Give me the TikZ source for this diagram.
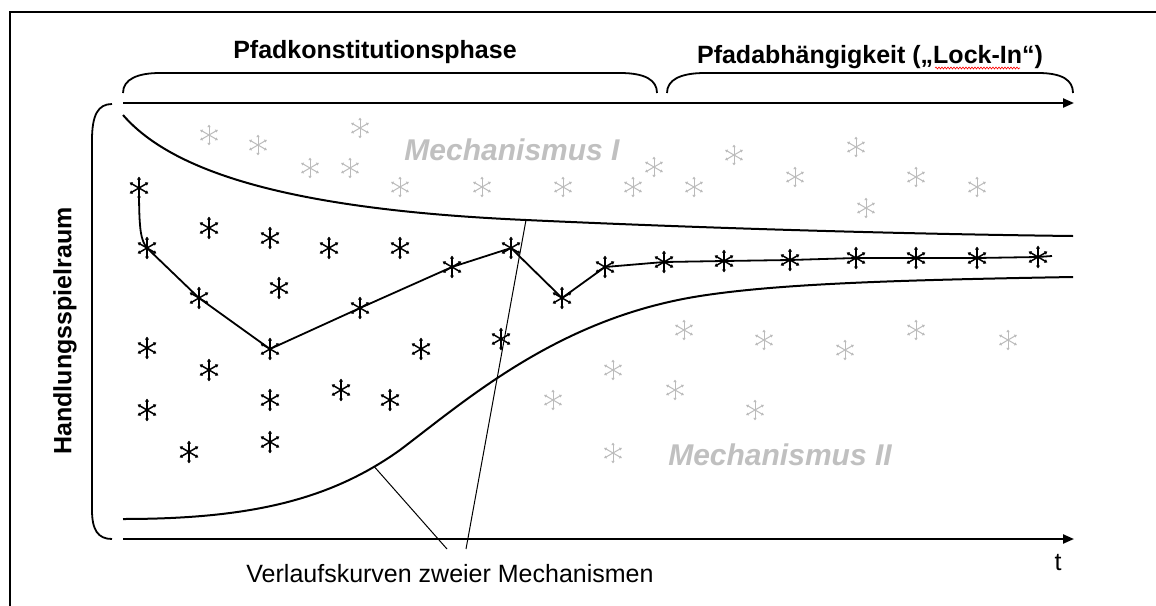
\documentclass[tikz,border=0pt]{standalone}
\usepackage{fontspec}
\setmainfont{Liberation Sans}
\usetikzlibrary{arrows.meta,decorations.pathmorphing}
\definecolor{astgray}{HTML}{BBBBBB}
\definecolor{mechgray}{HTML}{C0C0C0}
\tikzset{
  astk/.style={line width=1.5pt, {Latex[length=3pt,width=4.4pt]}-{Latex[length=3pt,width=4.4pt]}},
  astg/.style={line width=1pt, draw=astgray, {Latex[length=2.6pt,width=3.6pt]}-{Latex[length=2.6pt,width=3.6pt]}},
  kast/.pic={\draw[astk] (0,-11.5)--(0,11.5); \draw[astk] (-9.5,-5.5)--(9.5,5.5); \draw[astk] (-9.5,5.5)--(9.5,-5.5);},
  gast/.pic={\draw[astg] (0,-10.5)--(0,10.5); \draw[astg] (-9,-5.2)--(9,5.2); \draw[astg] (-9,5.2)--(9,-5.2);},
  axisline/.style={line width=2.2pt, -{Triangle[length=11pt,width=9pt]}},
  bracel/.style={line width=1.8pt},
  curveline/.style={line width=2pt},
  pathline/.style={line width=1.8pt, line join=round},
  pointer/.style={line width=1pt},
  titletext/.style={font=\fontsize{25}{30}\selectfont\bfseries, inner sep=0pt},
  captext/.style={font=\fontsize{25}{30}\selectfont, inner sep=0pt},
  mechtext/.style={font=\fontsize{30}{36}\selectfont\bfseries\itshape, text=mechgray, inner sep=0pt},
}
\begin{document}
\begin{tikzpicture}[x=1pt,y=-1pt]
\useasboundingbox (0,0) rectangle (1156,605);
% frame
\draw[line width=2pt] (10,610) -- (10,12) -- (1160,12);
% titles
\node[titletext] (t1) at (375,52) {Pfadkonstitutionsphase};
\node[titletext] (t2) at (870,57) {Pfadabhängigkeit („Lock-In“)};
\draw[red, line width=0.6pt, decorate, decoration={snake, amplitude=1pt, segment length=3pt}] (935,68) -- (1020,68);
\node[titletext, rotate=90] (hl) at (65,331) {Handlungsspielraum};
% braces
\draw[bracel] (123,93) .. controls (123,79) and (138,73) .. (160,73) -- (620,73) .. controls (645,73) and (657,80) .. (657,93);
\draw[bracel] (667,93) .. controls (667,80) and (680,73) .. (705,73) -- (1038,73) .. controls (1062,73) and (1073,80) .. (1073,93);
\draw[bracel] (112,104) .. controls (98,104) and (92,115) .. (92,140) -- (92,510) .. controls (92,530) and (98,539) .. (112,539);
% axes
\coordinate (ta0) at (123,103); \coordinate (ta1) at (1074,103);
\coordinate (ba0) at (123,539); \coordinate (ba1) at (1074,539);
\draw[axisline] (ta0) -- (ta1);
\draw[axisline] (ba0) -- (ba1);
% mechanism curves
\draw[curveline] (123,115) .. controls (175,175) and (300,210) .. (526,220) coordinate (pb)
  .. controls (700,228) and (900,234) .. (1073,236);
\draw[curveline] (123,519) .. controls (250,519) and (330,500) .. coordinate[pos=0.88] (pa) (400,450)
  .. controls (470,397) and (560,318) .. (700,296)
  .. controls (780,283.5) and (900,280) .. (1073,277);
% labels
\node[mechtext] (m1) at (512,150) {Mechanismus I};
\node[mechtext] (m2) at (780,455) {Mechanismus II};
\node[captext] (cap) at (450,574) {Verlaufskurven zweier Mechanismen};
\node[captext] (tl) at (1058,563) {t};
% pointers
\coordinate (ca) at (447,549); \coordinate (cb) at (466,549);
\draw[pointer] (pa) -- (ca);
\draw[pointer] (pb) -- (cb);
% gray asterisks
\foreach \x/\y in {209/135,258/145,360/128,310/168,350/168,400/187,482/187,563/187,633/187,654/167,694/187,734/155,795/177,856/147,866/208,916/177,977/187,684/330,764/340,845/350,916/330,1008/340,613/370,675/390,553/400,755/410,613/453}
  \pic at (\x,\y) {gast};
% path
\coordinate (p1) at (139,188); \coordinate (p2) at (147,248); \coordinate (p3) at (199,298);
\coordinate (p4) at (270,349); \coordinate (p5) at (360,308); \coordinate (p6) at (452,267);
\coordinate (p7) at (511,248); \coordinate (p8) at (562,298); \coordinate (p9) at (605,267);
\coordinate (p10) at (664,262); \coordinate (p11) at (724,261); \coordinate (p12) at (790,260);
\coordinate (p13) at (856,258); \coordinate (p14) at (916,258); \coordinate (p15) at (977,258);
\coordinate (p16) at (1038,257); \coordinate (pend) at (1052,256);
\draw[pathline] (p1) .. controls (139,232) and (141,240) .. (p2) -- (p3) -- (p4) -- (p5) -- (p6) -- (p7) -- (p8) -- (p9) -- (p10) -- (p11) -- (p12) -- (p13) -- (p14) -- (p15) -- (p16) -- (pend);
\foreach \n in {1,...,16} \pic at (p\n) {kast};
% black asterisks
\foreach \x/\y in {209/228,270/238,329/248,400/248,279/288,147/348,209/370,421/349,501/339,341/390,270/400,390/400,147/410,189/452,270/442}
  \pic at (\x,\y) {kast};
\end{tikzpicture}
\end{document}
